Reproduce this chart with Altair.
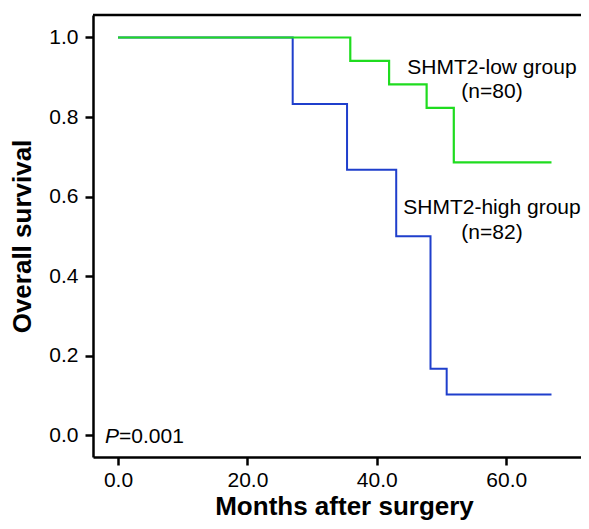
import altair as alt
import pandas as pd

# Kaplan-Meier step points
low_time = [0, 35.9, 41.9, 47.7, 51.9, 67.0]
low_surv = [1.0, 0.941, 0.882, 0.823, 0.686, 0.686]
high_time = [0, 27.0, 35.4, 43.0, 48.3, 50.8, 67.0]
high_surv = [1.0, 0.833, 0.667, 0.5, 0.167, 0.102, 0.102]

x_ticks = [0, 20, 40, 60]
y_ticks = [0.0, 0.2, 0.4, 0.6, 0.8, 1.0]

ann_text = ["SHMT2-low group", "(n=80)", "SHMT2-high group", "(n=82)"]
ann_x = [57.8, 57.8, 57.8, 57.8]
ann_y = [0.908, 0.849, 0.556, 0.492]

p_label = "P"
p_value = "=0.001"
p_x = -2.0
p_y = -0.02

FONT = "Liberation Sans"
W, H = 488, 442

xs = alt.Scale(domain=[-3.864, 71.56], nice=False, zero=False)
ys = alt.Scale(domain=[-0.0553, 1.0566], nice=False, zero=False)

x_axis = alt.Axis(values=x_ticks, format=".1f", title="Months after surgery",
                  grid=False, domainColor="black", domainWidth=2.5,
                  tickColor="black", tickWidth=2.5, tickSize=8,
                  labelFont=FONT, labelFontSize=21, labelColor="black",
                  labelPadding=4,
                  titleFont=FONT, titleFontSize=26, titleFontWeight="bold",
                  titleColor="black", titleX=251, titleY=57,
                  titleBaseline="alphabetic")
y_axis = alt.Axis(values=y_ticks, format=".1f", title="Overall survival",
                  grid=False, domainColor="black", domainWidth=2.5,
                  tickColor="black", tickWidth=2.5, tickSize=8,
                  labelFont=FONT, labelFontSize=21, labelColor="black",
                  labelPadding=7,
                  titleFont=FONT, titleFontSize=26, titleFontWeight="bold",
                  titleColor="black", titleX=-58, titleY=221)

high_df = pd.DataFrame({"t": high_time, "s": high_surv})
low_df = pd.DataFrame({"t": low_time, "s": low_surv})

high = alt.Chart(high_df).mark_line(interpolate="step-after", strokeWidth=2,
                                    color="#1f3fcc").encode(
    x=alt.X("t:Q", scale=xs, axis=x_axis),
    y=alt.Y("s:Q", scale=ys, axis=y_axis),
    order=alt.Order("t:Q"),
)
low = alt.Chart(low_df).mark_line(interpolate="step-after", strokeWidth=2.2,
                                  color="#1fdc1f").encode(
    x=alt.X("t:Q", scale=xs),
    y=alt.Y("s:Q", scale=ys),
    order=alt.Order("t:Q"),
)

ann_df = pd.DataFrame({"text": ann_text, "x": ann_x, "y": ann_y})
ann = alt.Chart(ann_df).mark_text(font=FONT, fontSize=21, color="black",
                                  align="center", baseline="alphabetic").encode(
    x=alt.X("x:Q", scale=xs), y=alt.Y("y:Q", scale=ys), text="text:N")

p_df = pd.DataFrame({"x": [p_x], "y": [p_y], "a": [p_label], "b": [p_value]})
p1 = alt.Chart(p_df).mark_text(font=FONT, fontSize=21, fontStyle="italic",
                               color="black", align="left",
                               baseline="alphabetic").encode(
    x=alt.X("x:Q", scale=xs), y=alt.Y("y:Q", scale=ys), text="a:N")
p2 = alt.Chart(p_df).mark_text(font=FONT, fontSize=21, color="black",
                               align="left", baseline="alphabetic", dx=14).encode(
    x=alt.X("x:Q", scale=xs), y=alt.Y("y:Q", scale=ys), text="b:N")

top = alt.Chart(p_df).mark_rule(color="black", strokeWidth=2.5).encode(
    x=alt.value(0), x2=alt.value(W), y=alt.value(0))

chart = alt.layer(high, low, ann, p1, p2, top).properties(
    width=W, height=H,
    autosize=alt.AutoSizeParams(type="none"),
    padding={"left": 85, "top": 7, "right": 0, "bottom": 64},
).configure_view(stroke=None).configure(background="white")

chart.save("out.html", embed_options={"renderer": "svg", "actions": False})
